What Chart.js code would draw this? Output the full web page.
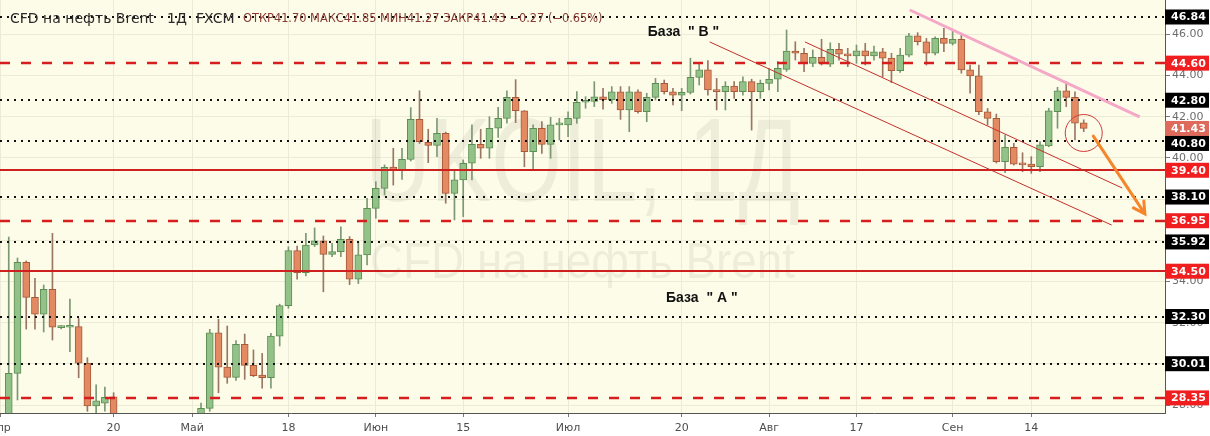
<!DOCTYPE html>
<html>
<head>
<meta charset="utf-8">
<script src="https://cdn.jsdelivr.net/npm/chart.js@4.4.0/dist/chart.umd.min.js"></script>
<style>
  html, body { margin: 0; padding: 0; background: #fff; }
</style>
</head>
<body>
<canvas id="chart_ukoil" width="1210" height="436"></canvas>
<script>
// daily candles, 2 Apr 2020 .. 22 Sep 2020 (bar index 0..123)
var opens = [
  25.0, 29.54, 34.93, 33.23, 32.41, 33.62, 31.76, 31.78, 31.81, 30.03, 27.96, 28.10, 28.40,
  25.6, 19.5, 20.4, 21.3, 21.4, 19.9, 20.4, 22.5, 25.3,
  26.5, 27.84, 31.51, 29.84, 29.35, 30.95, 29.93, 29.46, 29.33, 31.35, 32.83, 35.50, 34.43,
  35.77, 35.98, 35.32, 35.45, 36.05, 34.11, 35.29, 37.55, 38.52, 39.55, 39.40, 39.93, 41.87,
  40.76, 40.61, 41.19, 38.28, 38.93, 39.74, 40.66, 40.47, 41.44, 41.92, 42.94, 42.29, 40.30,
  41.44, 40.66, 41.60, 41.60, 41.92, 42.70, 42.74, 42.97, 42.81, 43.21, 42.33, 43.21, 42.24,
  42.94, 43.62, 43.21, 43.05, 43.18, 43.91, 44.27, 43.30, 43.22, 43.49, 43.22, 43.70, 43.22,
  43.62, 43.82, 44.30, 45.19, 45.08, 44.59, 44.88, 44.55, 45.27, 45.04, 44.95, 45.20, 44.95,
  45.15, 44.84, 44.23, 44.99, 45.92, 45.64, 45.08, 45.81, 45.56, 45.76, 44.27, 43.98, 42.24,
  41.92, 39.82, 40.51, 39.72, 39.70, 39.57, 40.58, 42.24, 43.26, 42.94, 41.70
];
var highs = [
  36.16, 35.14, 35.00, 34.16, 33.83, 36.34, 31.86, 33.15, 32.21, 30.30, 28.98, 28.88, 28.60,
  26.0, 22.6, 22.2, 22.3, 21.6, 20.8, 22.9, 26.0, 27.2,
  28.10, 31.68, 32.17, 31.84, 31.13, 31.45, 30.68, 30.51, 31.49, 32.90, 35.69, 35.72, 36.34,
  36.60, 36.21, 35.85, 36.66, 36.18, 35.93, 38.04, 38.84, 39.66, 40.47, 40.47, 42.44, 43.26,
  41.39, 41.92, 41.25, 39.41, 39.90, 41.60, 41.39, 42.00, 42.46, 43.26, 43.80, 42.30, 41.60,
  41.76, 41.97, 41.92, 42.24, 43.22, 42.97, 43.70, 43.38, 43.46, 43.46, 43.46, 43.30, 43.14,
  43.86, 43.78, 43.38, 43.38, 44.84, 44.59, 44.72, 43.86, 43.70, 43.70, 43.94, 43.82, 43.78,
  44.35, 44.67, 46.21, 45.64, 45.32, 45.24, 45.76, 45.59, 45.56, 45.32, 45.48, 45.56, 45.43,
  45.32, 45.08, 45.32, 46.05, 46.08, 45.80, 45.88, 46.29, 46.17, 46.05, 44.51, 44.51, 42.40,
  42.13, 41.11, 40.71, 40.25, 40.06, 40.79, 42.41, 43.43, 43.70, 43.21, 41.85
];
var lows = [
  24.5, 28.25, 31.69, 31.69, 31.55, 31.16, 31.70, 30.59, 29.33, 27.70, 27.60, 27.70, 25.00,
  16.0, 15.9, 19.8, 20.5, 19.2, 18.4, 19.9, 22.3, 23.4,
  26.0, 27.70, 28.60, 29.06, 29.20, 29.25, 29.38, 28.82, 28.82, 30.87, 32.70, 34.11, 34.27,
  35.70, 33.50, 35.20, 35.20, 33.85, 33.90, 34.80, 37.07, 38.20, 38.68, 38.96, 39.85, 40.70,
  39.77, 40.06, 37.80, 36.99, 37.15, 38.93, 39.98, 39.98, 41.00, 41.68, 41.71, 39.57, 39.45,
  40.22, 39.98, 40.87, 41.03, 41.68, 42.41, 42.49, 42.36, 42.65, 41.87, 41.27, 42.17, 41.76,
  42.81, 43.10, 42.57, 42.29, 43.10, 43.54, 43.05, 42.33, 42.33, 42.89, 43.05, 41.35, 42.89,
  43.30, 43.21, 44.20, 44.75, 44.18, 44.43, 44.51, 44.43, 44.75, 44.43, 44.59, 44.51, 44.75,
  43.94, 43.65, 44.15, 44.90, 45.48, 44.51, 45.00, 45.16, 45.48, 44.11, 43.14, 42.10, 41.60,
  39.75, 39.28, 39.65, 39.33, 39.25, 39.33, 40.54, 41.44, 42.49, 40.87, 41.27
];
var closes = [
  29.54, 34.93, 33.23, 32.41, 33.62, 31.78, 31.80, 31.86, 30.03, 27.96, 28.21, 28.38, 25.60,
  19.3, 20.4, 21.3, 21.4, 19.9, 20.4, 22.5, 25.3, 26.4,
  27.84, 31.51, 29.84, 29.35, 30.95, 29.93, 29.43, 29.33, 31.35, 32.83, 35.50, 34.43, 35.77,
  35.98, 35.32, 35.45, 36.05, 34.11, 35.29, 37.55, 38.52, 39.54, 39.40, 39.93, 41.87, 40.79,
  40.61, 41.19, 38.28, 38.93, 39.74, 40.66, 40.47, 41.44, 41.92, 42.94, 42.29, 40.30, 41.44,
  40.66, 41.60, 41.64, 41.92, 42.70, 42.75, 42.97, 42.81, 43.21, 42.33, 43.21, 42.24, 42.94,
  43.62, 43.21, 43.05, 43.18, 43.91, 44.27, 43.30, 43.22, 43.49, 43.22, 43.70, 43.22, 43.62,
  43.82, 44.35, 45.19, 45.08, 44.59, 44.88, 44.59, 45.27, 45.04, 44.95, 45.20, 44.95, 45.15,
  44.84, 44.23, 44.99, 45.92, 45.64, 45.08, 45.81, 45.56, 45.76, 44.27, 43.98, 42.24, 41.92,
  39.82, 40.51, 39.70, 39.66, 39.57, 40.63, 42.28, 43.26, 42.94, 41.68, 41.43
];

var xTickPos = [-1, 12, 21, 32, 42, 52, 64, 77, 87, 97, 108, 117];
var xTickText = ['Апр', '20', 'Май', '18', 'Июн', '15', 'Июл', '20', 'Авг', '17', 'Сен', '14'];
var yTickValues = [28, 30, 32, 34, 36, 38, 40, 42, 44, 46];

// horizontal levels drawn by hand on the chart
var dottedLevels = [46.84, 42.80, 40.80, 38.10, 35.92, 32.30, 30.01];
var dashedLevels = [44.60, 36.95, 28.35];
var solidLevels = [39.40, 34.50];
var lastPrice = 41.43;

// trend lines, [bar index, price]
var pinkLine = [[103.1, 47.18], [129.4, 41.99]];
var channelLines = [
  [[80.2, 45.63], [126.2, 36.74]],
  [[91.1, 45.63], [127.4, 38.54]]
];
var circlePoint = [123, 41.21];
var arrowLine = [[124.1, 41.06], [130.0, 37.28]];

var titleText = 'CFD на нефть Brent';
var ohlcText = 'ОТКР41.70 МАКС41.85 МИН41.27 ЗАКР41.43 −0.27 (−0.65%)';
var baseB = 'База  " В "';
var baseA = 'База  " А "';
var basePoints = [[77.2, 46.11], [79.3, 33.2]];

var isUp = function (i) { return closes[i] >= opens[i]; };
var idx = opens.map(function (_, i) { return i; });

var bodies = {
  label: 'body',
  data: idx.map(function (i) { return { x: i, y: [opens[i], closes[i]] }; }),
  backgroundColor: function (c) { return isUp(c.dataIndex) ? '#93c289' : '#e38a62'; },
  borderColor: function (c) { return isUp(c.dataIndex) ? '#5d8d54' : '#a65a3b'; },
  borderWidth: 1,
  borderSkipped: false,
  barThickness: 7,
  minBarLength: 2,
  grouped: false,
  order: 0
};
var wicks = {
  label: 'wick',
  data: idx.map(function (i) { return { x: i, y: [lows[i], highs[i]] }; }),
  backgroundColor: function (c) { return isUp(c.dataIndex) ? '#7b9873' : '#9a7763'; },
  barThickness: 1,
  grouped: false,
  order: 1
};

function line(ctx, chart, a, b) {
  var xs = chart.scales.x, ys = chart.scales.y;
  ctx.beginPath();
  ctx.moveTo(xs.getPixelForValue(a[0]), ys.getPixelForValue(a[1]));
  ctx.lineTo(xs.getPixelForValue(b[0]), ys.getPixelForValue(b[1]));
  ctx.stroke();
}

var chart_ukoil = new Chart(document.getElementById('chart_ukoil'), {
  type: 'bar',
  data: { datasets: [bodies, wicks] },
  options: {
    animation: false,
    responsive: false,
    layout: { padding: 0 },
    plugins: {
      legend: { display: false },
      tooltip: { enabled: false }
    },
    scales: {
      x: {
        type: 'linear',
        min: -1,
        max: 132.3,
        offset: false,
        grid: { color: '#ececd6', tickColor: '#777', tickLength: 4, offset: false },
        border: { color: '#555' },
        ticks: {
          autoSkip: false,
          maxRotation: 0,
          padding: 5,
          color: '#4d4d4d',
          font: { family: 'DejaVu Sans', size: 11 },
          callback: function (v) { return xTickText[xTickPos.indexOf(v)]; }
        },
        afterBuildTicks: function (s) { s.ticks = xTickPos.map(function (v) { return { value: v }; }); },
        afterFit: function (s) { s.height = 23; s.paddingLeft = 0; s.paddingRight = 0; }
      },
      y: {
        type: 'linear',
        position: 'right',
        min: 27.617,
        max: 47.665,
        grid: { color: '#ececd6', tickColor: '#777', tickLength: 5 },
        border: { color: '#555' },
        ticks: {
          padding: 2,
          color: '#6d6d6d',
          font: { family: 'DejaVu Sans', size: 11 },
          callback: function (v) { return v.toFixed(2); }
        },
        afterBuildTicks: function (s) { s.ticks = yTickValues.map(function (v) { return { value: v }; }); },
        afterFit: function (s) { s.width = 45; s.paddingTop = 0; s.paddingBottom = 0; }
      }
    }
  },
  plugins: [{
    id: 'background',
    beforeDraw: function (chart) {
      var ctx = chart.ctx, a = chart.chartArea;
      ctx.save();
      ctx.fillStyle = '#ffffff';
      ctx.fillRect(0, 0, chart.width, chart.height);
      ctx.fillStyle = '#fcfce8';
      ctx.fillRect(a.left, a.top, a.right - a.left, a.bottom - a.top);
      ctx.restore();
    }
  }, {
    id: 'watermark',
    beforeDatasetsDraw: function (chart) {
      var ctx = chart.ctx, a = chart.chartArea;
      var cx = (a.left + a.right) / 2;
      ctx.save();
      ctx.fillStyle = 'rgba(0,0,0,0.06)';
      ctx.textAlign = 'center';
      ctx.textBaseline = 'middle';
      ctx.font = '100px "Liberation Sans"';
      var t1 = 'UKOIL, 1Д';
      var k1 = 435 / ctx.measureText(t1).width;
      ctx.translate(cx, a.top + 168);
      ctx.scale(k1, 1.18);
      ctx.fillText(t1, 0, 0);
      ctx.restore();
      ctx.save();
      ctx.fillStyle = 'rgba(0,0,0,0.06)';
      ctx.textAlign = 'center';
      ctx.textBaseline = 'middle';
      ctx.font = '50px "Liberation Sans"';
      var k2 = 425 / ctx.measureText(titleText).width;
      ctx.translate(cx, a.top + 264);
      ctx.scale(k2, 1);
      ctx.fillText(titleText, 0, 0);
      ctx.restore();
    }
  }, {
    id: 'drawings',
    afterDatasetsDraw: function (chart) {
      var ctx = chart.ctx, a = chart.chartArea, xs = chart.scales.x, ys = chart.scales.y;
      ctx.save();
      ctx.beginPath();
      ctx.rect(a.left, a.top, a.right - a.left, a.bottom - a.top);
      ctx.clip();

      function hline(v) {
        var y = Math.round(ys.getPixelForValue(v));
        ctx.beginPath();
        ctx.moveTo(a.left, y);
        ctx.lineTo(a.right, y);
        ctx.stroke();
      }
      ctx.lineWidth = 2;
      ctx.strokeStyle = '#111';
      ctx.setLineDash([2, 5]);
      dottedLevels.forEach(hline);
      ctx.strokeStyle = '#d61e1e';
      ctx.lineWidth = 2.5;
      ctx.setLineDash([10, 11]);
      dashedLevels.forEach(hline);
      ctx.setLineDash([]);
      ctx.lineWidth = 2;
      ctx.strokeStyle = '#cf2020';
      solidLevels.forEach(hline);

      ctx.lineWidth = 1;
      ctx.strokeStyle = '#c4302a';
      channelLines.forEach(function (l) { line(ctx, chart, l[0], l[1]); });

      ctx.lineWidth = 3;
      ctx.strokeStyle = '#f4a7c7';
      line(ctx, chart, pinkLine[0], pinkLine[1]);

      ctx.lineWidth = 1;
      ctx.strokeStyle = '#d33b3b';
      ctx.beginPath();
      ctx.arc(xs.getPixelForValue(circlePoint[0]), ys.getPixelForValue(circlePoint[1]), 18.5, 0, Math.PI * 2);
      ctx.stroke();

      // arrow
      var x1 = xs.getPixelForValue(arrowLine[0][0]), y1 = ys.getPixelForValue(arrowLine[0][1]);
      var x2 = xs.getPixelForValue(arrowLine[1][0]), y2 = ys.getPixelForValue(arrowLine[1][1]);
      var ang = Math.atan2(y2 - y1, x2 - x1);
      ctx.lineWidth = 3;
      ctx.strokeStyle = '#f5862b';
      ctx.lineCap = 'round';
      ctx.beginPath();
      ctx.moveTo(x1, y1);
      ctx.lineTo(x2, y2);
      ctx.moveTo(x2 - 13 * Math.cos(ang - 0.5), y2 - 13 * Math.sin(ang - 0.5));
      ctx.lineTo(x2, y2);
      ctx.lineTo(x2 - 13 * Math.cos(ang + 0.5), y2 - 13 * Math.sin(ang + 0.5));
      ctx.stroke();

      ctx.fillStyle = '#111';
      ctx.font = 'bold 14px "Liberation Sans"';
      ctx.textAlign = 'center';
      ctx.textBaseline = 'middle';
      ctx.fillText(baseB, xs.getPixelForValue(basePoints[0][0]), ys.getPixelForValue(basePoints[0][1]));
      ctx.fillText(baseA, xs.getPixelForValue(basePoints[1][0]), ys.getPixelForValue(basePoints[1][1]));
      ctx.restore();
    },
    afterDraw: function (chart) {
      var ctx = chart.ctx, a = chart.chartArea, ys = chart.scales.y;
      ctx.save();
      // price labels on the right axis
      var labels = [];
      dottedLevels.forEach(function (v) { labels.push({ v: v, bg: '#000000' }); });
      dashedLevels.forEach(function (v) { labels.push({ v: v, bg: '#f01e1e' }); });
      solidLevels.forEach(function (v) { labels.push({ v: v, bg: '#f01e1e' }); });
      labels.push({ v: lastPrice, bg: '#dd6a5b' });
      labels.sort(function (p, q) { return q.v - p.v; });
      var h = 15, prevBottom = -100;
      ctx.font = 'bold 11px "DejaVu Sans"';
      ctx.textBaseline = 'middle';
      ctx.textAlign = 'left';
      labels.forEach(function (l) {
        var top = ys.getPixelForValue(l.v) - h / 2;
        if (top < prevBottom) top = prevBottom;
        prevBottom = top + h;
        ctx.fillStyle = l.bg;
        ctx.fillRect(a.right, top, chart.width - a.right - 1, h);
        ctx.fillStyle = '#ffffff';
        ctx.fillText(l.v.toFixed(2), a.right + 6, top + h / 2 + 0.5);
      });

      // legend line at top left
      ctx.fillStyle = '#2b2b2b';
      ctx.font = '14px "DejaVu Sans"';
      ctx.fillText(titleText, 10, 19);
      ctx.fillText('1Д', 167, 19);
      ctx.fillText('FXCM', 196, 19);
      ctx.fillStyle = '#873a32';
      ctx.font = '11.4px "DejaVu Sans"';
      ctx.fillText(ohlcText, 243, 19);
      ctx.restore();
    }
  }]
});
</script>
</body>
</html>
